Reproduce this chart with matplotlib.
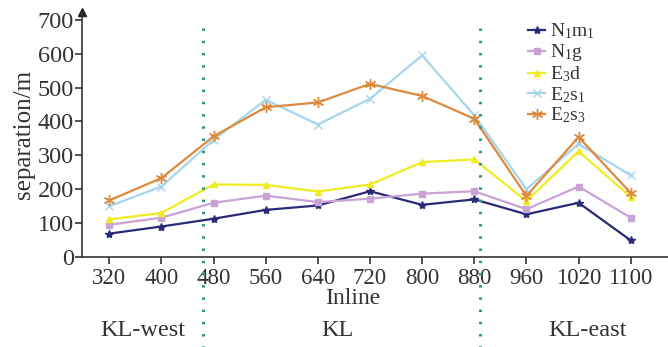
import matplotlib
matplotlib.use("Agg")
import matplotlib.pyplot as plt
import matplotlib.transforms as mtrans
import numpy as np

plt.rcParams['font.family'] = ['Liberation Serif', 'DejaVu Serif']
plt.rcParams['mathtext.fontset'] = 'custom'
plt.rcParams['mathtext.rm'] = 'Liberation Serif'
plt.rcParams['mathtext.it'] = 'Liberation Serif'

inlines = ['320', '400', '480', '560', '640', '720', '800', '880', '960', '1020', '1100']
N1m1 = [69, 90, 113, 139, 152, 194, 154, 170, 126, 160, 49]
N1g = [95, 116, 160, 181, 162, 172, 187, 194, 141, 208, 116]
E3d = [111, 130, 214, 213, 193, 214, 280, 288, 165, 312, 177]
E2s1 = [150, 208, 346, 464, 391, 467, 595, 418, 200, 334, 241]
E2s3 = [167, 233, 356, 442, 456, 511, 475, 408, 180, 354, 189]
labels = [r'N$_\mathregular{1}$m$_\mathregular{1}$', r'N$_\mathregular{1}$g',
          r'E$_\mathregular{3}$d', r'E$_\mathregular{2}$s$_\mathregular{1}$',
          r'E$_\mathregular{2}$s$_\mathregular{3}$']
boundaries = [1.80, 7.11]
regions = ['KL-west', 'KL', 'KL-east']

W, H = 668, 347
fig = plt.figure(figsize=(W / 100, H / 100), dpi=100)
ax = fig.add_axes([82 / W, (H - 257) / H, 1 - 82 / W, (257 - 12) / H])

x = np.arange(len(inlines))
txt = '#333333'
series = [
    (N1m1, '#2a2a78', '*', 6),
    (N1g, '#c9a3d3', 's', 4),
    (E3d, '#f0ec22', '^', 4),
    (E2s1, '#a6d6ef', 'x', 6),
    (E2s3, '#de8a3e', (6, 2, 0), 8),
]
handles = []
for (vals, col, mk, ms), lab in zip(series, labels):
    h, = ax.plot(x, vals, color=col, marker=mk, markersize=ms, lw=1.6,
                 markeredgewidth=1.0, label=lab)
    handles.append(h)

ax.set_xlim(-0.524, 10.715)
ax.set_ylim(0, 723)
ax.set_xticks(x)
ax.set_xticklabels(inlines)
ax.set_yticks(np.arange(0, 701, 100))
ax.tick_params(axis='both', colors=txt, length=5, width=1.2)
ax.tick_params(axis='x', labelsize=16.5, pad=3)
ax.tick_params(axis='y', labelsize=17.5, pad=1)
for s in ['top', 'right']:
    ax.spines[s].set_visible(False)
for s in ['left', 'bottom']:
    ax.spines[s].set_color('#333333')
    ax.spines[s].set_linewidth(1.2)
ax.plot(0, 1, marker='^', color='#222222', markersize=6,
        transform=ax.transAxes, clip_on=False)

ax.set_ylabel('separation/m', fontsize=18, color=txt, labelpad=2)

trans = mtrans.blended_transform_factory(ax.transData, fig.transFigure)
for b in boundaries:
    ax.plot([b, b], [1 - 28 / H, 0], transform=trans, color='#2a9a78',
            lw=2.2, linestyle=(0, (0.8, 3.2)), clip_on=False)

ax.text((353 - 109.3) / 52.14, 1 - 298 / H, 'Inline', transform=trans, ha='center',
        va='center', fontsize=17, color=txt)
for xp, r in zip([(143 - 109.3) / 52.14, (337 - 109.3) / 52.14, (588 - 109.3) / 52.14], regions):
    ax.text(xp, 1 - 331 / H, r, transform=trans, ha='center', va='center',
            fontsize=17.5, color=txt)

fig.legend(handles=handles, loc='upper left', bbox_to_anchor=(520 / W, 1 - 14 / H),
           frameon=False, fontsize=14, handlelength=0.9, handletextpad=0.25,
           labelspacing=0.05, labelcolor=txt, borderaxespad=0)

fig.savefig('out.png', dpi=100)
